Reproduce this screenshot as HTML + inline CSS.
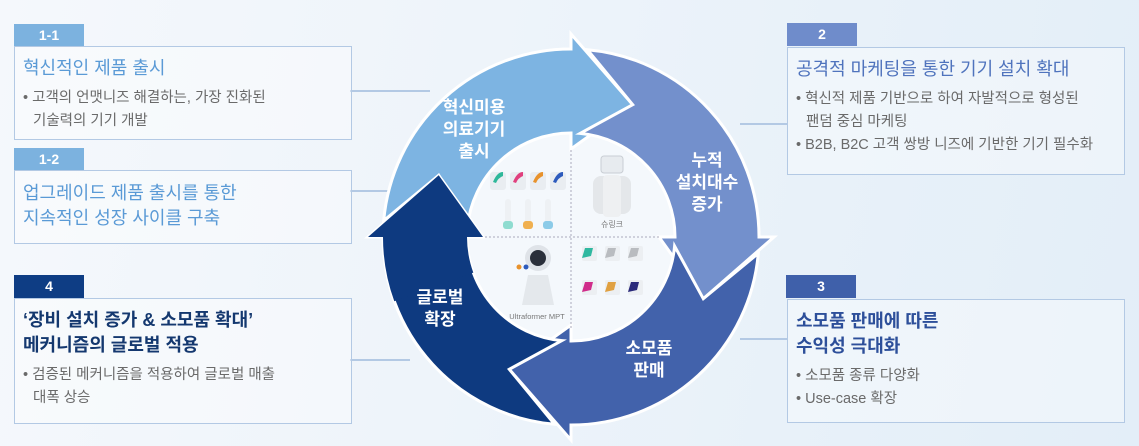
<!DOCTYPE html>
<html><head><meta charset="utf-8">
<style>
*{margin:0;padding:0;box-sizing:border-box}
body{width:1139px;height:446px;overflow:hidden;position:relative;font-family:"Liberation Sans","Noto Sans CJK KR",sans-serif;background:linear-gradient(100deg,#f5f8fc 0%,#eef4fa 40%,#e8f1f9 70%,#e3eef8 100%)}
.tab{position:absolute;width:70px;height:23px;color:#fff;font-weight:bold;font-size:14px;text-align:center;line-height:23px}
.box{position:absolute;border:1.5px solid #b3c9e4;background:rgba(255,255,255,0.35);padding:9px 8px}
.t{font-size:18px;line-height:25px}
.b{font-size:14.5px;color:#6a6a6a;line-height:23px;margin-top:6px}
.b div{padding-left:10px;text-indent:-10px}
.line{position:absolute;height:1.5px;background:#b3c9e4}
svg{position:absolute;left:0;top:0}
</style></head><body>
<div class="line" style="left:350px;top:90px;width:80px"></div>
<div class="line" style="left:350px;top:190px;width:40px"></div>
<div class="line" style="left:350px;top:359px;width:60px"></div>
<div class="line" style="left:740px;top:123px;width:48px"></div>
<div class="line" style="left:740px;top:338px;width:48px"></div>

<div class="tab" style="left:14px;top:24px;background:#7cb2df">1-1</div>
<div class="box" style="left:14px;top:46px;width:338px;height:94px"><div class="t" style="color:#5a9ad6">혁신적인 제품 출시</div><div class="b"><div>• 고객의 언맷니즈 해결하는, 가장 진화된<br>기술력의 기기 개발</div></div></div>
<div class="tab" style="left:14px;top:148px;background:#7cb2df">1-2</div>
<div class="box" style="left:14px;top:170px;width:338px;height:74px;padding-top:10px"><div class="t" style="color:#5a9ad6">업그레이드 제품 출시를 통한<br>지속적인 성장 사이클 구축</div></div>
<div class="tab" style="left:14px;top:275px;background:#0e3d84">4</div>
<div class="box" style="left:14px;top:298px;width:338px;height:126px"><div class="t" style="color:#14386f;font-weight:bold">‘장비 설치 증가 &amp; 소모품 확대’<br>메커니즘의 글로벌 적용</div><div class="b"><div>• 검증된 메커니즘을 적용하여 글로벌 매출<br>대폭 상승</div></div></div>

<div class="tab" style="left:787px;top:23px;background:#6f8ccb">2</div>
<div class="box" style="left:787px;top:47px;width:338px;height:128px"><div class="t" style="color:#4f73bd">공격적 마케팅을 통한 기기 설치 확대</div><div class="b"><div>• 혁신적 제품 기반으로 하여 자발적으로 형성된<br>팬덤 중심 마케팅</div><div>• B2B, B2C 고객 쌍방 니즈에 기반한 기기 필수화</div></div></div>
<div class="tab" style="left:786px;top:275px;background:#3f60aa">3</div>
<div class="box" style="left:787px;top:299px;width:338px;height:124px"><div class="t" style="color:#2d4f9a;font-weight:bold">소모품 판매에 따른<br>수익성 극대화</div><div class="b"><div>• 소모품 종류 다양화</div><div>• Use-case 확장</div></div></div>

<svg id="s" width="1139" height="446"></svg>
<script>
var cx=571,cy=237,ri=104,ro=188,hri=88,hro=203,rm=146;
function P(r,a){a=a*Math.PI/180;return (cx+r*Math.sin(a)).toFixed(1)+","+(cy-r*Math.cos(a)).toFixed(1);}
var cols=["#0e3a80","#7db4e2","#7390cc","#4262ab"];
var bases=[270,360,450,540];
var s="";
s+='<circle cx="'+cx+'" cy="'+cy+'" r="'+(ri-1)+'" fill="#f4f8fc"/>';
[1,2,3,0].forEach(function(i){var B=bases[i],T=B-85;
var d="M"+P(ro,T)+" A"+ro+","+ro+" 0 0 1 "+P(ro,B)+" L"+P(hro,B)+" L"+P(rm,B+25)+" L"+P(hri,B)+" L"+P(ri,B)+" A"+ri+","+ri+" 0 0 0 "+P(ri,T)+" L"+P(rm,T+20)+" Z";
s+='<path d="'+d+'" fill="'+cols[i]+'" stroke="#fff" stroke-width="3" stroke-linejoin="miter"/>';});
(function(){var B=270;var d="M"+P(ro,B-20)+" A"+ro+","+ro+" 0 0 1 "+P(ro,B)+" L"+P(hro,B)+" L"+P(rm,B+25)+" L"+P(hri,B)+" L"+P(ri,B)+" A"+ri+","+ri+" 0 0 0 "+P(ri,B-20)+" Z";s+='<path d="'+d+'" fill="#0e3a80"/>';})();
s+='<line x1="571" y1="150" x2="571" y2="330" stroke="#aab" stroke-dasharray="2,2"/><line x1="485" y1="237" x2="660" y2="237" stroke="#aab" stroke-dasharray="2,2"/>';
var c4=["#2fb89a","#e0407e","#e8922c","#2d5bbd"];
for(var i=0;i<4;i++){s+='<rect x="'+(490+i*20)+'" y="172" width="16" height="18" rx="3" fill="#e9edf1"/><path d="M'+(493+i*20)+',182 q4,-10 10,-10 l0,4 q-5,2 -7,7z" fill="'+c4[i]+'"/>';}
var c3=["#8fdcd0","#f0b050","#8ccbe8"];
for(i=0;i<3;i++){s+='<rect x="'+(505+i*20)+'" y="199" width="6" height="28" rx="3" fill="#eef1f4"/><rect x="'+(503+i*20)+'" y="221" width="10" height="8" rx="3" fill="'+c3[i]+'"/>';}
s+='<rect x="601" y="156" width="22" height="17" rx="3" fill="#e7ebef" stroke="#c9ced4"/><rect x="593" y="176" width="38" height="38" rx="8" fill="#e4e7ea"/><rect x="603" y="175" width="18" height="42" rx="4" fill="#eef0f2"/>';
s+='<text x="612" y="227" font-size="8" fill="#777" text-anchor="middle">슈링크</text>';
s+='<circle cx="538" cy="258" r="13" fill="#dfe3e8"/><circle cx="538" cy="258" r="8" fill="#2a2f3a"/><path d="M528,275 l20,0 l6,30 l-32,0z" fill="#e4e8ec"/><circle cx="519" cy="267" r="2.5" fill="#e8922c"/><circle cx="526" cy="267" r="2.5" fill="#2d5bbd"/>';
s+='<text x="537" y="319" font-size="7.5" fill="#777" text-anchor="middle">Ultraformer MPT</text>';
var c6=["#2fb8a0","#b9bcc0","#b9bcc0","#d02c8a","#e0a040","#2a2a7a"];
for(i=0;i<6;i++){var x=582+(i%3)*23,y=246+Math.floor(i/3)*34;s+='<rect x="'+x+'" y="'+y+'" width="15" height="15" rx="2" fill="#eceff2"/><path d="M'+x+','+(y+12)+' l3,-10 l8,0 l-2,8z" fill="'+c6[i]+'"/>';}
function L(x,y,lines){lines.forEach(function(t,j){s+='<text x="'+x+'" y="'+(y+j*22)+'" font-size="17" font-weight="bold" fill="#fff" text-anchor="middle" font-family="Liberation Sans,Noto Sans CJK KR,sans-serif">'+t+'</text>';});}
L(474,113,["혁신미용","의료기기","출시"]);
L(707,166,["누적","설치대수","증가"]);
L(649,354,["소모품","판매"]);
L(440,303,["글로벌","확장"]);
document.getElementById("s").innerHTML=s;
</script>
</body></html>
